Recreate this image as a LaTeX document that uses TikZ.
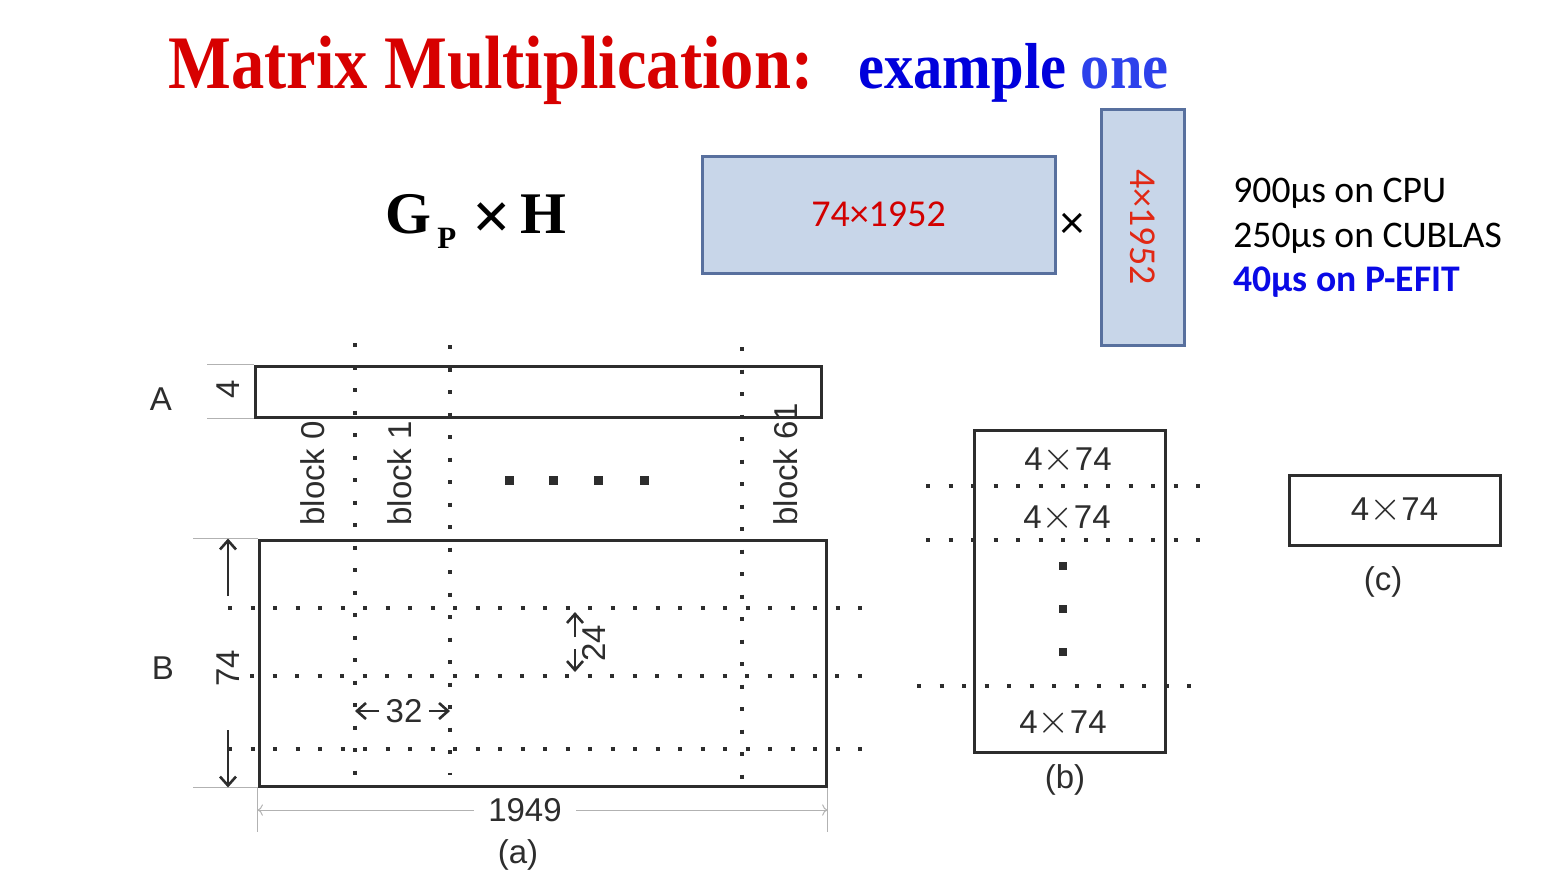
\documentclass[tikz,border=0pt]{standalone}
\usepackage{fontspec}
\setmainfont{Liberation Serif}
\setsansfont{Liberation Sans}
\newfontfamily\calib{Carlito}
\usetikzlibrary{arrows.meta}

\definecolor{titlered}{RGB}{215,0,0}
\definecolor{exblue}{RGB}{0,0,220}
\definecolor{oneblue}{RGB}{45,65,235}
\definecolor{numred}{RGB}{210,0,0}
\definecolor{numred2}{RGB}{225,40,20}
\definecolor{pefit}{RGB}{10,10,230}
\definecolor{boxfill}{RGB}{200,214,233}
\definecolor{boxedge}{RGB}{88,112,158}
\definecolor{ink}{RGB}{45,45,45}

\newcommand{\bigx}{{\fontsize{20}{20}\selectfont$\times$}}

\begin{document}
\begin{tikzpicture}[x=0.5pt, y=-0.5pt,
  matbox/.style={draw=boxedge, fill=boxfill, line width=1.5pt, inner sep=0pt},
  blk/.style={draw=ink, line width=1.5pt, inner sep=0pt},
  lbl/.style={text=ink, font=\sffamily\fontsize{16.5}{18}\selectfont, inner sep=1pt},
  calb/.style={font=\calib\fontsize{18.8}{20}\selectfont, anchor=base west, inner sep=0pt},
  dots/.style={ink, line width=2pt, dash pattern=on 2pt off 9.25pt},
  dimln/.style={gray!60, line width=0.5pt},
  dimarr/.style={ink, line width=1.3pt, -{Straight Barb[length=4.5pt, width=8pt]}}]

\useasboundingbox (0,0) rectangle (1561,891);

\node (ttl) [anchor=base west, inner sep=0pt, xscale=0.88, text=titlered,
  font=\bfseries\fontsize{37.8}{40}\selectfont] at (168,88) {Matrix Multiplication:};
\node (sub) [anchor=base west, inner sep=0pt, xscale=0.9,
  font=\bfseries\fontsize{32.5}{34}\selectfont] at (858,88)
  {\textcolor{exblue}{example} \textcolor{oneblue}{one}};

\node (GpH) [anchor=base west, inner sep=0pt, font=\fontsize{29.5}{32}\selectfont] at (385,233)
  {\textbf{G}\hspace{3pt}\raisebox{-7.5pt}{\fontsize{15.5}{16}\selectfont\textbf{P}}\hspace{8pt}\raisebox{-3pt}{\fontsize{34}{34}\selectfont\textbf{×}}\hspace{5pt}\textbf{H}};

\node (Gp) [matbox, minimum width=176.5pt, minimum height=58.5pt, text=numred,
  font=\calib\fontsize{19}{20}\selectfont] at (878.5,214.5) {\raisebox{-1.5pt}{74×1952}};
\node (mul) [font=\calib\fontsize{24}{24}\selectfont] at (1072,226) {×};
\node (H) [matbox, rotate=-90, minimum width=118pt, minimum height=41.5pt, text=numred2,
  font=\calib\fontsize{19}{20}\selectfont] at (1142.5,227) {4×1952};

\foreach \y/\t in {202/900µs on CPU, 247/250µs on CUBLAS}
  \node (t\y) [calb] at (1233,\y) {\t};
\node (tgpu) [calb, text=pefit, font=\calib\bfseries\fontsize{18.8}{20}\selectfont] at (1233,291) {40µs on P-EFIT};

\node (A) [blk, minimum width=283pt, minimum height=25.5pt] at (538,391.5) {};
\node (B) [blk, minimum width=283.5pt, minimum height=123pt] at (542.5,663) {};
\node (lA) [lbl] at (161,399) {A};
\node (lB) [lbl] at (163,668) {B};
\node (d4) [lbl, rotate=90] at (228,389) {4};
\node (d74) [lbl, rotate=90] at (228,668) {74};
\draw[dimln] (A.north west) -- ++(-47,0);
\draw[dimln] (A.south west) -- ++(-47,0);
\draw[dimln] (B.north west) -- ++(-65,0);
\draw[dimln] (B.south west) -- ++(-65,0);
\coordinate (u74) at (228,596);
\coordinate (l74) at (228,730);
\draw[dimarr] (u74) -- (u74 |- B.north);
\draw[dimarr] (l74) -- (l74 |- B.south);

\foreach \x/\a/\b [count=\i from 0] in {355/343/775, 450/345/775, 742/347/780} {
  \coordinate (vt\i) at (\x,\a);
  \coordinate (vb\i) at (\x,\b);
  \draw[dots] (vt\i) -- (vb\i);
}
\foreach \y/\a [count=\i] in {608/228, 676/250, 749/228} {
  \coordinate (hl\i) at (\a,\y);
  \coordinate (hr\i) at (864,\y);
  \draw[dots] (hl\i) -- (hr\i);
}

\foreach \x/\t in {313/0, 400/1, 786/61}
  \node (blk\t) [lbl, rotate=90, anchor=west] at (\x,528) {block \t};
\foreach \x in {509,553,598,644}
  \fill[ink] (\x,480) +(-4.5,-4.5) rectangle +(4.5,4.5);

\node (n32) [lbl, inner xsep=3pt] at (404,711) {32};
\draw[dimarr] (n32) -- (n32 -| vt0);
\draw[dimarr] (n32) -- (n32 -| vt1);
\node (n24) [lbl, rotate=90] at (594,643) {24};
\coordinate (m24) at (575,643);
\draw[dimarr, shorten >=2pt] ([yshift=3pt]m24) -- (m24 |- hl1);
\draw[dimarr, shorten >=2pt] ([yshift=-3pt]m24) -- (m24 |- hl2);

\node (n1949) [lbl, inner xsep=7pt] at (525,810) {1949};
\draw[dimln, ->] (n1949) -- (n1949 -| B.south west);
\draw[dimln, ->] (n1949) -- (n1949 -| B.south east);
\draw[dimln] (B.south west) -- ++(0,44);
\draw[dimln] (B.south east) -- ++(0,44);
\node (capa) [lbl] at (518,855) {(a)};

\node (Bb) [blk, minimum width=95.5pt, minimum height=161pt] at (1069.5,591) {};
\foreach \y/\a/\b in {486/926/1214, 540/926/1214, 686/917/1204}
  \draw[dots] (\a,\y) -- (\b,\y);
\foreach \x/\y [count=\i] in {1068/460, 1067/518, 1063/723}
  \node (r\i) [lbl] at (\x,\y) {4\bigx74};
\foreach \y in {566,609,652}
  \fill[ink] (1063,\y) +(-4,-4) rectangle +(4,4);
\node (capb) [lbl] at (1065,780) {(b)};

\node (Cc) [blk, lbl, minimum width=105.5pt, minimum height=35pt] at (1394.5,510) {4\bigx74};
\node (capc) [lbl] at (1383,582) {(c)};

\end{tikzpicture}
\end{document}
